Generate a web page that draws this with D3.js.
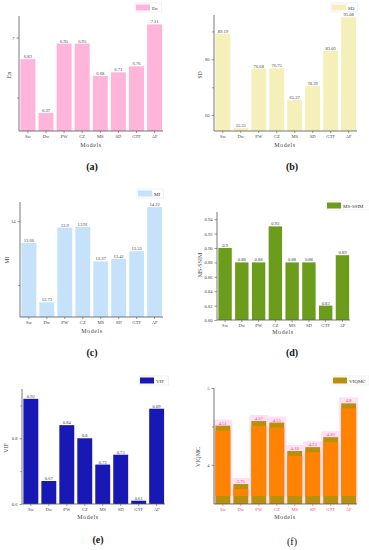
<!DOCTYPE html>
<html><head><meta charset="utf-8">
<script src="https://cdn.jsdelivr.net/npm/d3@7"></script>
<style>body{margin:0;background:#fff}svg{display:block}text{font-family:"Liberation Serif","DejaVu Serif",serif}</style>
</head><body>
<script>
const models = ["Sw","Dw","PW","CZ","MS","SD","GTF","AF"];
const enValues = [6.82, 6.37, 6.95, 6.95, 6.68, 6.71, 6.76, 7.11];
const sdValues = [89.19, 55.31, 76.68, 76.75, 65.37, 70.39, 83.03, 95.08];
const miValues = [13.66, 12.73, 13.9, 13.91, 13.37, 13.41, 13.53, 14.22];
const msssimValues = [0.9, 0.88, 0.88, 0.93, 0.88, 0.88, 0.82, 0.89];
const vifValues = [0.92, 0.67, 0.84, 0.8, 0.72, 0.75, 0.61, 0.89];
const viqmcValues = [4.51, 3.75, 4.57, 4.55, 4.18, 4.23, 4.36, 4.8];
const panelNames = ["En","SD","MI","MS-SSIM","VIF","VIQMC"];
const panelLetters = ["(a)","(b)","(c)","(d)","(e)","(f)"];
const enTicks = [7], enMinor = [6.5];
const sdTicks = [60, 80], sdMinor = [70, 90];
const miTicks = [14], miMinor = [13];
const msTicks = [0.80,0.82,0.84,0.86,0.88,0.90,0.92,0.94], msMinor = [];
const vifTicks = [0.6, 0.8], vifMinor = [0.7, 0.9];
const viqTicks = [4, 5], viqMinor = [4.5];

const svg = d3.select("body").append("svg").attr("width",369).attr("height",550);

const panels = [
 {vals:enValues, ticks:enTicks, minor:enMinor, dom:[6.22,7.18], x0:19, x1:163, yb:131, yt:16, color:"#ffb5da", fmt:d3.format("d"),
  leg:[136,4], title:[9,75], models:[91,147], letter:[92,170], pad:0.17},
 {vals:sdValues, ticks:sdTicks, minor:sdMinor, dom:[54.3,95.9], x0:214, x1:357, yb:131, yt:15, color:"#f5f0ba", fmt:d3.format("d"),
  leg:[332,4], title:[200,75], models:[285,147], letter:[292,170], pad:0.17},
 {vals:miValues, ticks:miTicks, minor:miMinor, dom:[12.5,14.3], x0:20, x1:163, yb:317, yt:202, color:"#c6e2fb", fmt:d3.format("d"),
  leg:[138,190], title:[7,260], models:[92,333], letter:[92,356], pad:0.17},
 {vals:msssimValues, ticks:msTicks, minor:msMinor, dom:[0.80,0.95], x0:217, x1:350, yb:320, yt:212, color:"#6b9c1c", fmt:d3.format(".2f"),
  leg:[327,202], title:[200,265], models:[283,334], letter:[292,356], pad:0.2},
 {vals:vifValues, ticks:vifTicks, minor:vifMinor, dom:[0.6,0.95], x0:22, x1:165, yb:504, yt:389, color:"#1818b4", fmt:d3.format(".1f"),
  leg:[140,377], title:[6,448], models:[88,519], letter:[98,543], pad:0.17},
 {vals:viqmcValues, ticks:viqTicks, minor:viqMinor, dom:[3.49,5], x0:214, x1:357, yb:504, yt:388, color:"#b8900c", fmt:d3.format("d"),
  leg:[333,377], title:[198,457], models:[285,519], letter:[292,545], pad:0.17, special:true}
];

panels.forEach((p,i) => {
  const g = svg.append("g");
  const x = d3.scaleBand().domain(models).range([p.x0+0.5, p.x1]).paddingInner(p.pad).paddingOuter(0.05);
  const y = d3.scaleLinear().domain(p.dom).range([p.yb, p.yt]);
  const bw = x.bandwidth();
  const labelColor = p.special ? "#ff3b7a" : "#444";

  if (p.special) {
    // pink halos behind bars
    g.selectAll(".halo").data(p.vals).enter().append("rect")
      .attr("x",(d,j)=>x(models[j])-2).attr("width",bw+4)
      .attr("y",d=>y(d)-6).attr("height",d=>p.yb-y(d)+6)
      .attr("fill","#ffe0f4");
  }
  g.selectAll(".bar").data(p.vals).enter().append("rect")
    .attr("x",(d,j)=>x(models[j])).attr("width",bw)
    .attr("y",d=>y(d)).attr("height",d=>p.yb-y(d))
    .attr("fill",p.color);
  if (p.special) {
    g.selectAll(".inner").data(p.vals).enter().append("rect")
      .attr("x",(d,j)=>x(models[j])).attr("width",bw)
      .attr("y",d=>y(d)+5).attr("height",d=>Math.max(0,p.yb-y(d)-13))
      .attr("fill","#ff8200");
  }
  // value labels
  g.selectAll(".vl").data(p.vals).enter().append("text")
    .attr("x",(d,j)=>x(models[j])+bw/2).attr("y",d=>y(d)-1)
    .attr("text-anchor","middle").attr("font-size",4.6).attr("fill",labelColor)
    .text(d=>String(d));

  // y axis
  const yAxis = d3.axisLeft(y).tickValues(p.ticks).tickSize(2.5).tickPadding(2).tickFormat(p.fmt);
  const ya = g.append("g").attr("transform",`translate(${p.x0},0)`).call(yAxis);
  ya.select(".domain").attr("d",`M0,${p.yt}V${p.yb}`).attr("stroke","#555").attr("stroke-width",0.8);
  ya.selectAll(".tick line").attr("stroke","#555").attr("stroke-width",0.6);
  ya.selectAll(".tick text").attr("font-size",4.6).attr("fill","#444").attr("font-family","Liberation Serif");
  const yMinor = d3.axisLeft(y).tickValues(p.minor).tickSize(1.8).tickFormat("");
  const ym = g.append("g").attr("transform",`translate(${p.x0},0)`).call(yMinor);
  ym.select(".domain").remove();
  ym.selectAll(".tick line").attr("stroke","#555").attr("stroke-width",0.6);

  // x axis
  const xAxis = d3.axisBottom(x).tickSize(2).tickPadding(1.5);
  const xa = g.append("g").attr("transform",`translate(0,${p.yb})`).call(xAxis);
  xa.select(".domain").attr("d",`M${p.x0},0H${p.x1}`).attr("stroke","#555").attr("stroke-width",0.8);
  xa.selectAll(".tick line").attr("stroke",p.special?"#ff3b7a":"#555").attr("stroke-width",0.6);
  xa.selectAll(".tick text").attr("font-size",4.6).attr("fill",labelColor).attr("font-family","Liberation Serif");

  // axis titles
  g.append("text").attr("x",p.models[0]).attr("y",p.models[1]).attr("text-anchor","middle")
    .attr("font-size",6).attr("letter-spacing",0.6).attr("fill","#444").text("Models");
  g.append("text").attr("transform",`translate(${p.title[0]},${p.title[1]}) rotate(-90)`)
    .attr("text-anchor","middle").attr("dy","0.35em").attr("font-size",6).attr("fill","#444").text(panelNames[i]);

  // legend
  const lg = g.append("g").attr("transform",`translate(${p.leg[0]},${p.leg[1]})`);
  const tw = panelNames[i].length*3.6 + 3;
  lg.append("rect").attr("x",-1).attr("y",-1).attr("width",16+tw).attr("height",9)
    .attr("fill","#fff").attr("stroke","#ddd").attr("stroke-width",0.4);
  lg.append("rect").attr("x",0).attr("y",0.5).attr("width",14).attr("height",6).attr("fill",p.color);
  lg.append("text").attr("x",16).attr("y",5.6).attr("font-size",5).attr("fill","#333").text(panelNames[i]);

  // panel letter
  g.append("text").attr("x",p.letter[0]).attr("y",p.letter[1]).attr("text-anchor","middle")
    .attr("font-size",10).attr("font-weight", p.special ? "normal" : "bold").attr("fill","#111")
    .attr("font-family", p.special ? "Liberation Sans" : "Liberation Serif")
    .text(panelLetters[i]);
});
</script>
</body></html>
